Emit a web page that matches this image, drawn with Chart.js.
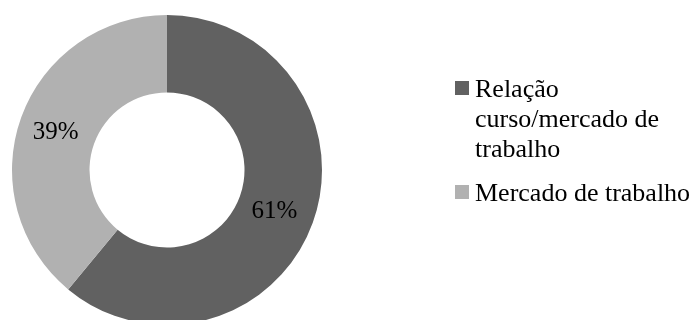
<!DOCTYPE html>
<html lang="pt">
<head>
    <meta charset="UTF-8">
    <title>Relação curso/mercado de trabalho</title>
    <style>
        html, body { margin: 0; padding: 0; background: #fff; overflow: hidden; }
        #wrap { position: relative; width: 697px; height: 330px; }
    </style>
</head>
<body>
    <div id="wrap"><canvas id="myChart"></canvas></div>

    <script src="https://cdn.jsdelivr.net/npm/chart.js"></script>
    <script>
        var categories = ['Relação curso/mercado de trabalho', 'Mercado de trabalho'];
        var values = [61, 39];
        var colors = ['#616161', '#b1b1b1'];

        var fontFamily = '"Liberation Serif", "Times New Roman", serif';

        // percent labels at the middle of each slice
        var sliceLabels = {
            id: 'sliceLabels',
            afterDatasetsDraw: function (chart) {
                var ctx = chart.ctx;
                var meta = chart.getDatasetMeta(0);
                var total = values.reduce(function (a, b) { return a + b; }, 0);
                ctx.save();
                ctx.font = '25px ' + fontFamily;
                ctx.fillStyle = '#000';
                ctx.textAlign = 'center';
                ctx.textBaseline = 'middle';
                meta.data.forEach(function (arc, i) {
                    var p = arc.tooltipPosition();
                    ctx.fillText(Math.round(values[i] / total * 100) + '%', p.x - 2, p.y + 2);
                });
                ctx.restore();
            }
        };

        // legend on the right, with word wrap like the original
        var wrapLegend = {
            id: 'wrapLegend',
            afterDraw: function (chart) {
                var ctx = chart.ctx;
                var x = 455, y = 97, box = 14, maxW = 220, lineH = 30;
                ctx.save();
                ctx.font = '26px ' + fontFamily;
                ctx.textBaseline = 'alphabetic';
                categories.forEach(function (label, i) {
                    var words = label.split(' ');
                    var lines = [];
                    var cur = '';
                    words.forEach(function (w) {
                        var test = cur ? cur + ' ' + w : w;
                        if (cur && ctx.measureText(test).width > maxW) {
                            lines.push(cur);
                            cur = w;
                        } else {
                            cur = test;
                        }
                    });
                    lines.push(cur);
                    ctx.fillStyle = colors[i];
                    ctx.fillRect(x, y - 16, box, box);
                    ctx.fillStyle = '#000';
                    lines.forEach(function (ln, j) {
                        ctx.fillText(ln, x + 20, y + j * lineH);
                    });
                    y += (lines.length - 1) * lineH + 44;
                });
                ctx.restore();
            }
        };

        var ctx = document.getElementById('myChart').getContext('2d');
        var myChart = new Chart(ctx, {
            type: 'doughnut',
            data: {
                labels: categories,
                datasets: [{
                    data: values,
                    backgroundColor: colors,
                    borderWidth: 0
                }]
            },
            options: {
                responsive: true,
                maintainAspectRatio: false,
                animation: false,
                cutout: '50%',
                layout: { padding: { left: 12, top: 15, right: 375, bottom: 5 } },
                plugins: {
                    legend: { display: false },
                    tooltip: { enabled: false }
                }
            },
            plugins: [sliceLabels, wrapLegend]
        });
    </script>
</body>
</html>
